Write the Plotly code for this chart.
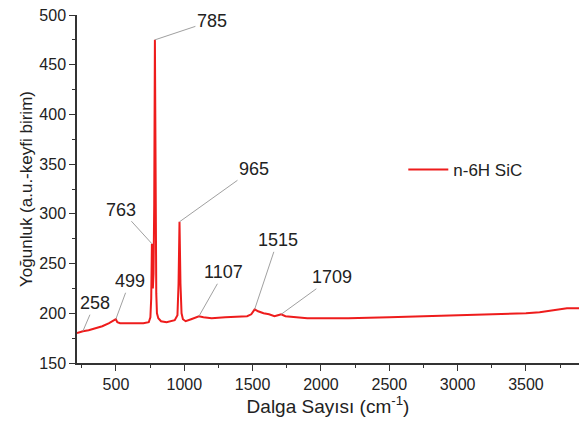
import plotly.graph_objects as go

# Raman spectrum
wavenumber = [215, 258, 300, 350, 400, 450, 480, 499, 510, 530, 600, 700, 740, 752, 758, 763, 766, 770, 775,
              780, 785, 790, 795, 800, 810, 830, 870, 930, 950, 958, 965, 972, 980, 990, 1010, 1050,
              1080, 1107, 1140, 1200, 1300, 1400, 1460, 1490, 1515, 1540, 1580, 1620, 1660, 1685,
              1709, 1740, 1800, 1900, 2000, 2200, 2500, 2800, 3000, 3300, 3500, 3600, 3700, 3800, 3888]
intensity = [180, 182, 183, 185, 187, 190, 192, 194, 191, 190, 190, 190, 191, 196, 215, 270, 235, 225, 240,
             310, 475, 300, 220, 200, 195, 192, 191, 193, 198, 230, 292, 230, 200, 194, 192, 194,
             196, 197, 196, 195, 196, 197, 197, 199, 204, 202, 200, 199, 197, 198,
             199, 197, 196, 195, 195, 195, 196, 197, 198, 199, 200, 201, 203, 205, 205]

peak_labels = [258, 499, 763, 785, 965, 1107, 1515, 1709]
label_offsets = [(12, -28), (14, -38), (-31, -34), (57, -19), (74, -53), (25, -44), (23, -69), (51, -37)]

series_name = "n-6H SiC"
x_title = "Dalga Sayısı (cm<sup>-1</sup>)"
y_title = "Yoğunluk (a.u.-keyfi birim)"

fig = go.Figure()
fig.add_trace(go.Scatter(x=wavenumber, y=intensity, mode="lines", name=series_name,
                         line=dict(color="#ee1c1c", width=2)))

annotations = []
for p, (ax, ay) in zip(peak_labels, label_offsets):
    i = wavenumber.index(p)
    annotations.append(dict(x=p, y=intensity[i], xref="x", yref="y", text=str(p),
                            showarrow=True, arrowhead=0, arrowwidth=1, arrowcolor="#a0a0a0",
                            ax=ax, ay=ay, standoff=0,
                            font=dict(family="Liberation Sans, Arial", size=18, color="#222")))

fig.update_layout(
    width=579, height=421,
    margin=dict(l=77, r=0, t=15, b=58),
    paper_bgcolor="white", plot_bgcolor="white",
    font=dict(family="Liberation Sans, Arial", color="#222"),
    showlegend=True,
    legend=dict(x=0.65, y=0.555, xanchor="left", yanchor="middle", bgcolor="rgba(0,0,0,0)",
                font=dict(size=17), itemwidth=40),
    annotations=annotations,
)
fig.update_xaxes(range=[215, 3888], tickvals=[500, 1000, 1500, 2000, 2500, 3000, 3500],
                 showline=True, linecolor="#333", linewidth=1.5, ticks="outside", ticklen=6,
                 tickcolor="#333", tickwidth=1.2, showgrid=False, zeroline=False,
                 minor=dict(tickvals=[250, 750, 1250, 1750, 2250, 2750, 3250, 3750], ticks="outside",
                            ticklen=3, tickcolor="#333", tickwidth=1.2),
                 tickfont=dict(size=16), ticklabeloverflow="allow",
                 title=dict(text=x_title, font=dict(size=19), standoff=8))
fig.update_yaxes(range=[150, 500], tickvals=[150, 200, 250, 300, 350, 400, 450, 500],
                 showline=True, linecolor="#333", linewidth=1.5, ticks="outside", ticklen=6,
                 tickcolor="#333", tickwidth=1.2, showgrid=False, zeroline=False,
                 minor=dict(tickvals=[175, 225, 275, 325, 375, 425, 475], ticks="outside",
                            ticklen=3, tickcolor="#333", tickwidth=1.2),
                 tickfont=dict(size=16), ticklabeloverflow="allow",
                 title=dict(text=y_title, font=dict(size=17), standoff=2))

fig.write_html("out.html", config={"displayModeBar": False},
               post_script="document.body.style.margin='0';")
